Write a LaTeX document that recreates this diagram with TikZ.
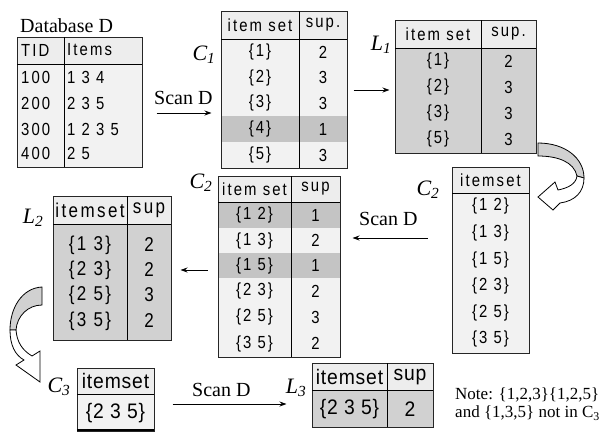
\documentclass[tikz,border=0pt]{standalone}
\usepackage{fontspec}
\setmainfont{Liberation Serif}
\newfontfamily\tabfont[LetterSpace=12,FakeStretch=0.85]{Liberation Sans}
\newfontfamily\bigfont[LetterSpace=4,FakeStretch=0.92]{Liberation Sans}
\usetikzlibrary{arrows.meta}
\definecolor{hdrgray}{gray}{0.93}
\definecolor{rowgray}{gray}{0.95}
\definecolor{selgray}{gray}{0.82}
\definecolor{cutgray}{gray}{0.77}
\begin{document}
\begin{tikzpicture}[x=1pt,y=-1pt,
  frame/.style={draw=black!85,line width=1pt,inner sep=0pt},
  cell/.style={font=\tabfont\fontsize{17.5}{20}\selectfont,inner sep=0pt},
  midcell/.style={font=\tabfont\fontsize{20}{23}\selectfont,inner sep=0pt},
  bigcell/.style={font=\bigfont\fontsize{21}{24}\selectfont,inner sep=0pt},
  lbl/.style={font=\fontsize{20}{24}\selectfont,inner sep=0pt},
  setname/.style={font=\itshape\fontsize{22}{26}\selectfont,inner sep=0pt},
  flow/.style={-{Stealth[length=7pt,width=5pt]},line width=0.9pt}]
\useasboundingbox (0,0) rectangle (604,432);

% Database D
\fill[rowgray] (17,37) rectangle (142,167);
\fill[hdrgray] (17,37) rectangle (142,64);
\node[frame,minimum width=125pt,minimum height=130pt] (DB) at (79.5,102) {};
\draw[line width=1pt] (64,37) -- (64,167);
\draw[line width=1pt] (17,64) -- (142,64);
\node[lbl,anchor=base west] (dbname) at (20,32) {Database D};
\node[cell,anchor=west] (tid) at (21,50) {TID};
\node[cell,anchor=west] (items) at (67,50) {Items};
\node[cell,anchor=west] (t100) at (21,77) {100};
\node[cell,anchor=west] (t200) at (21,103) {200};
\node[cell,anchor=west] (t300) at (21,129) {300};
\node[cell,anchor=west] (t400) at (21,153) {400};
\node[cell,anchor=west] (i100) at (67,77) {1 3 4};
\node[cell,anchor=west] (i200) at (67,103) {2 3 5};
\node[cell,anchor=west] (i300) at (67,129) {1 2 3 5};
\node[cell,anchor=west] (i400) at (67,153) {2 5};

% C1
\fill[rowgray] (221,39) rectangle (347,168);
\fill[hdrgray] (221,11) rectangle (347,39);
\fill[cutgray] (221,116) rectangle (347,142);
\node[frame,minimum width=126pt,minimum height=157pt] (C1) at (284,89.5) {};
\draw[line width=1pt] (299,11) -- (299,168);
\draw[line width=1pt] (221,39) -- (347,39);
\node[setname] (c1name) at (204,55) {C\textsubscript{1}};
\node[cell] (c1h) at (260,25) {item set};
\node[cell] (c1s) at (323,25) {sup.};
\node[cell] (c1a) at (260,52) {\{1\}};
\node[cell] (c1b) at (260,77.5) {\{2\}};
\node[cell] (c1c) at (260,103) {\{3\}};
\node[cell] (c1d) at (260,129) {\{4\}};
\node[cell] (c1e) at (260,155) {\{5\}};
\node[cell] (c1sa) at (323,52) {2};
\node[cell] (c1sb) at (323,77.5) {3};
\node[cell] (c1sc) at (323,103) {3};
\node[cell] (c1sd) at (323,129) {1};
\node[cell] (c1se) at (323,155) {3};

% L1
\fill[selgray] (395,48) rectangle (536,153);
\fill[hdrgray] (395,20) rectangle (536,48);
\node[frame,minimum width=141pt,minimum height=133pt] (L1) at (465.5,86.5) {};
\draw[line width=1pt] (481,20) -- (481,153);
\draw[line width=1pt] (395,48) -- (536,48);
\node[setname] (l1name) at (381,45) {L\textsubscript{1}};
\node[cell] (l1h) at (438,34) {item set};
\node[cell] (l1s) at (508.5,34) {sup.};
\node[cell] (l1a) at (438,61) {\{1\}};
\node[cell] (l1b) at (438,87) {\{2\}};
\node[cell] (l1c) at (438,113) {\{3\}};
\node[cell] (l1d) at (438,139) {\{5\}};
\node[cell] (l1sa) at (508.5,61) {2};
\node[cell] (l1sb) at (508.5,87) {3};
\node[cell] (l1sc) at (508.5,113) {3};
\node[cell] (l1sd) at (508.5,139) {3};

% C2 (join of L1)
\fill[rowgray] (452,193) rectangle (529,353);
\fill[hdrgray] (452,167) rectangle (529,193);
\node[frame,minimum width=77pt,minimum height=186pt] (C2r) at (490.5,260) {};
\draw[line width=1pt] (452,193) -- (529,193);
\node[setname] (c2rname) at (428,190) {C\textsubscript{2}};
\node[cell] (c2rh) at (490.5,180) {itemset};
\node[cell] (c2ra) at (490.5,206) {\{1 2\}};
\node[cell] (c2rb) at (490.5,233) {\{1 3\}};
\node[cell] (c2rc) at (490.5,260) {\{1 5\}};
\node[cell] (c2rd) at (490.5,286) {\{2 3\}};
\node[cell] (c2re) at (490.5,313) {\{2 5\}};
\node[cell] (c2rf) at (490.5,339) {\{3 5\}};

% C2 with counts
\fill[rowgray] (218,202) rectangle (340,357);
\fill[hdrgray] (218,176) rectangle (340,202);
\fill[cutgray] (218,202) rectangle (340,228);
\fill[cutgray] (218,253) rectangle (340,278);
\node[frame,minimum width=122pt,minimum height=181pt] (C2) at (279,266.5) {};
\draw[line width=1pt] (291,176) -- (291,357);
\draw[line width=1pt] (218,202) -- (340,202);
\node[setname] (c2name) at (201,183) {C\textsubscript{2}};
\node[cell] (c2h) at (254.5,189) {item set};
\node[cell] (c2s) at (315.5,189) {sup};
\node[cell] (c2a) at (254.5,215) {\{1 2\}};
\node[cell] (c2b) at (254.5,240.5) {\{1 3\}};
\node[cell] (c2c) at (254.5,265.5) {\{1 5\}};
\node[cell] (c2d) at (254.5,291) {\{2 3\}};
\node[cell] (c2e) at (254.5,317) {\{2 5\}};
\node[cell] (c2f) at (254.5,343.5) {\{3 5\}};
\node[cell] (c2sa) at (315.5,215) {1};
\node[cell] (c2sb) at (315.5,240.5) {2};
\node[cell] (c2sc) at (315.5,265.5) {1};
\node[cell] (c2sd) at (315.5,291) {2};
\node[cell] (c2se) at (315.5,317) {3};
\node[cell] (c2sf) at (315.5,343.5) {2};

% L2
\fill[selgray] (53,224) rectangle (171,340);
\fill[hdrgray] (53,196) rectangle (171,224);
\node[frame,minimum width=118pt,minimum height=144pt] (L2) at (112,268) {};
\draw[line width=1pt] (127,196) -- (127,340);
\draw[line width=1pt] (53,224) -- (171,224);
\node[setname] (l2name) at (33,218) {L\textsubscript{2}};
\node[midcell] (l2h) at (90,210) {itemset};
\node[midcell] (l2s) at (149,210) {sup};
\node[midcell] (l2a) at (90,245) {\{1 3\}};
\node[midcell] (l2b) at (90,270) {\{2 3\}};
\node[midcell] (l2c) at (90,295) {\{2 5\}};
\node[midcell] (l2d) at (90,321) {\{3 5\}};
\node[midcell] (l2sa) at (149,245) {2};
\node[midcell] (l2sb) at (149,270) {2};
\node[midcell] (l2sc) at (149,295) {3};
\node[midcell] (l2sd) at (149,321) {2};

% C3
\fill[rowgray] (77,394) rectangle (154,431);
\fill[hdrgray] (77,368) rectangle (154,394);
\node[frame,minimum width=77pt,minimum height=63pt] (C3) at (115.5,399.5) {};
\draw[line width=1pt] (77,394) -- (154,394);
\draw[line width=2.5pt] (77,430) -- (154,430);
\node[setname] (c3name) at (59,387) {C\textsubscript{3}};
\node[bigcell] (c3h) at (115.5,381) {itemset};
\node[bigcell] (c3a) at (115.5,413) {\{2 3 5\}};

% L3
\fill[selgray] (312,390) rectangle (433,427);
\fill[hdrgray] (312,363) rectangle (433,390);
\node[frame,minimum width=121pt,minimum height=64pt] (L3) at (372.5,395) {};
\draw[line width=1pt] (387,363) -- (387,427);
\draw[line width=1pt] (312,390) -- (433,390);
\node[setname] (l3name) at (296,388) {L\textsubscript{3}};
\node[bigcell] (l3h) at (349.5,377) {itemset};
\node[bigcell] (l3s) at (410,377) {sup};
\node[bigcell] (l3a) at (349.5,409) {\{2 3 5\}};
\node[bigcell] (l3sa) at (410,409) {2};

% scans and steps
\node[lbl,anchor=base west] (scan1) at (154,104) {Scan D};
\node[lbl,anchor=base west] (scan2) at (359,225) {Scan D};
\node[lbl,anchor=base west] (scan3) at (192,396) {Scan D};
\draw[flow,shorten <=14pt,shorten >=9pt] (DB.east |- 0,113) -- (C1.west |- 0,113);
\draw[flow,shorten <=6pt,shorten >=5pt] (C1.east |- 0,90) -- (L1.west |- 0,90);
\draw[flow,shorten <=24pt,shorten >=12pt] (C2r.west |- 0,238) -- (C2.east |- 0,238);
\draw[flow,shorten <=10pt,shorten >=9pt] (C2.west |- 0,270) -- (L2.east |- 0,270);
\draw[flow,shorten <=18pt,shorten >=25pt] (C3.east |- 0,404) -- (L3.west |- 0,404);

% curved arrows
\filldraw[fill=selgray,line width=0.8pt] (538,143) .. controls (565,143) and (584,158) .. (584,178) -- (577,176) .. controls (574,162) and (558,156) .. (538,156) -- cycle;
\filldraw[fill=white,line width=0.8pt] (584,178) .. controls (584,192) and (575,201) .. (560,203) -- (553,210) -- (538,197) -- (555,182) -- (558,190) .. controls (568,188) and (576,184) .. (577,176) -- cycle;
\filldraw[fill=selgray,line width=0.8pt] (42,287) .. controls (22,288) and (10,308) .. (10,330) -- (16,330) .. controls (17,316) and (28,305) .. (42,305) -- cycle;
\filldraw[fill=white,line width=0.8pt] (10,330) .. controls (10,345) and (15,355) .. (24,360) -- (16,365) -- (40,382) -- (40,351) -- (32,356) .. controls (22,350) and (17,342) .. (16,330) -- cycle;

\node[font=\fontsize{17}{18}\selectfont,align=left,anchor=west,inner sep=0pt] (note) at (455,404) {Note: \{1,2,3\}\{1,2,5\}\\and \{1,3,5\} not in C\textsubscript{3}};
\end{tikzpicture}
\end{document}
